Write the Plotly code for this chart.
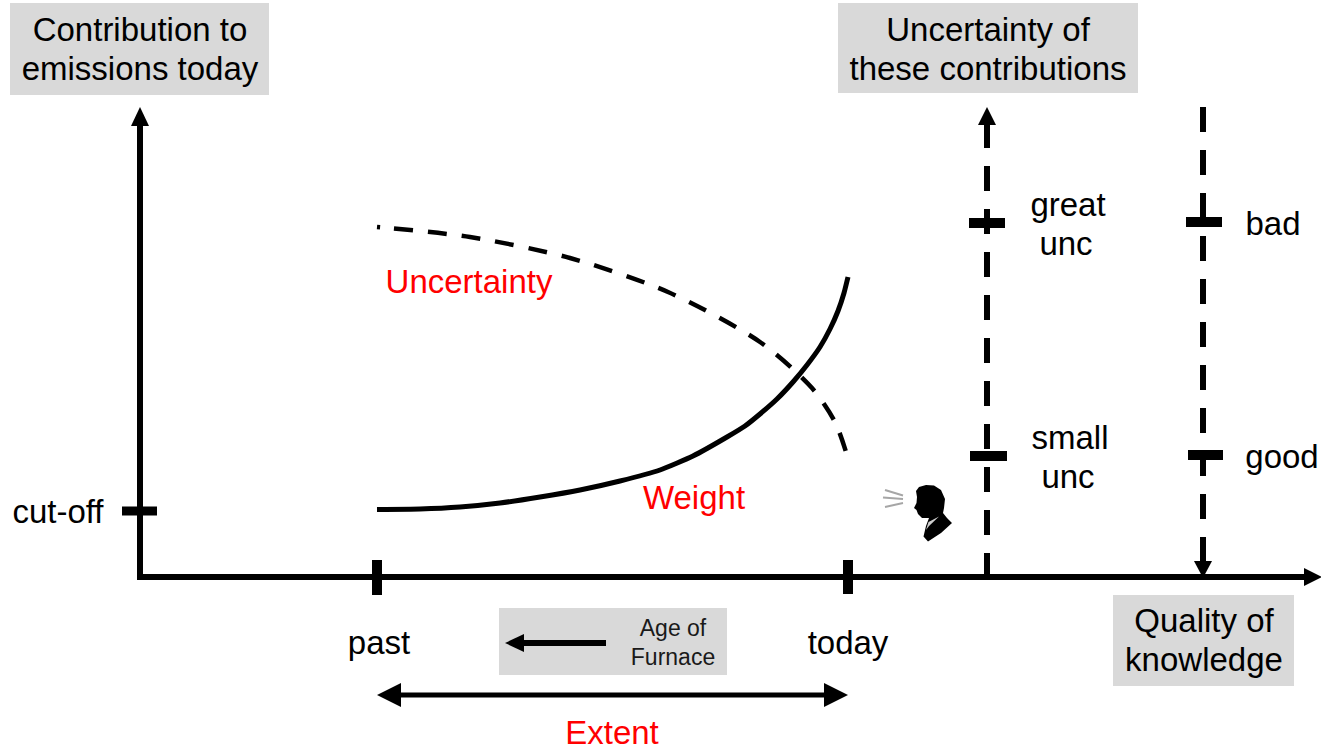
import plotly.graph_objects as go

# Curves (pixel-style diagram coordinates)
uncertainty_x = [377, 470, 570, 668, 760, 812, 835, 847]
uncertainty_y = [227, 237, 258, 292, 342, 388, 422, 455]
weight_x = [377, 420, 460, 500, 540, 580, 620, 660, 693, 727, 745, 760, 777, 793, 807, 820, 830, 838, 844, 848]
weight_y = [509.5, 509, 507, 503, 497, 490, 481, 470, 456, 437, 426, 414, 399, 382, 365, 347, 329, 311, 293, 277]

# Grey label boxes: x0, y0, x1, y1
boxes = [(10, 3, 269, 95), (838, 3, 1138, 93), (1113, 595, 1294, 686), (499, 608, 727, 675)]

# Solid straight lines: x0, y0, x1, y1, width
solid_lines = [
    (140, 580, 140, 122, 6), (137, 577, 1306, 577, 6),
    (122, 511, 157, 511, 9), (377, 560, 377, 595, 10), (848, 560, 848, 594, 10),
    (969, 223, 1005, 223, 10), (1186, 222, 1222, 222, 10),
    (970, 456, 1007, 456, 10), (1188, 455, 1223, 455, 10),
    (398, 695, 828, 695, 5), (522, 643, 606, 643, 6),
]
# Dashed axes: x, y_start, y_end
dashed_lines = [(987, 123, 577), (1203, 107, 565)]
# Arrowheads: tip x, tip y, base x, base y, half width
arrowheads = [
    (140, 107, 140, 126, 9), (1322, 577, 1304, 577, 9),
    (987, 107, 987, 125, 9), (1203, 578, 1203, 561, 9),
    (377, 695, 401, 695, 12), (848, 695, 824, 695, 12),
    (505, 643, 524, 643, 9),
]

# Text labels
black_labels = ["Contribution to", "emissions today", "Uncertainty of", "these contributions",
                "Quality of", "knowledge", "cut-off", "past", "today",
                "great", "unc", "small", "unc", "bad", "good"]
black_x = [140, 140, 988, 988, 1204, 1204, 58, 379, 848, 1068, 1066, 1070, 1068, 1273, 1282]
black_y = [33, 72, 33, 72, 624, 663, 515, 646, 646, 208, 247, 441, 480, 227, 460]
small_labels = ["Age of", "Furnace"]
small_x = [673, 673]
small_y = [630, 659]
red_labels = ["Uncertainty", "Weight", "Extent"]
red_x = [469, 694, 612]
red_y = [285, 501, 736]

# Speaker silhouette
head_x = [916, 919, 926, 934, 941, 945, 944, 943, 947, 952, 941, 928, 923.5, 926, 929, 922, 918, 916.5, 914, 916.5, 917]
head_y = [491, 487, 485, 485.5, 490, 499, 508, 513, 518, 523, 533, 541.5, 536.5, 526, 518, 518, 514, 510, 508, 503, 497]
tie_x = [928.5, 939, 929, 926, 928.5]
tie_y = [522, 516.5, 526, 530, 522]
speech_lines = [(885, 490, 903, 495.5), (883, 497.5, 903, 499), (885, 507, 903, 503)]

fig = go.Figure()


def add_line(xs, ys, width, dash="solid", color="black", shape="linear", smoothing=0.8):
    fig.add_trace(go.Scatter(x=xs, y=ys, mode="lines", hoverinfo="skip", showlegend=False,
                             line=dict(color=color, width=width, dash=dash, shape=shape,
                                       smoothing=smoothing)))


def add_fill(xs, ys, color):
    fig.add_trace(go.Scatter(x=xs, y=ys, mode="lines", fill="toself", fillcolor=color,
                             line=dict(width=0, color=color), hoverinfo="skip", showlegend=False))


def add_text(labels, xs, ys, size, color):
    fig.add_trace(go.Scatter(x=xs, y=ys, mode="text", text=labels, textposition="middle center",
                             textfont=dict(family="Liberation Sans", size=size, color=color),
                             hoverinfo="skip", showlegend=False))


for x0, y0, x1, y1, w in solid_lines:
    add_line([x0, x1], [y0, y1], w)
for x, y0, y1 in dashed_lines:
    add_line([x, x], [y0, y1], 6, dash="25px,18px")
add_line(uncertainty_x, uncertainty_y, 4.5, dash="3px,14px," + ",".join(["19px,15px"] * 18), shape="spline")
add_line(weight_x, weight_y, 5, shape="spline", smoothing=0.5)
for tx, ty, bx, by, h in arrowheads:
    if tx == bx:
        add_fill([tx, bx - h, bx + h, tx], [ty, by, by, ty], "black")
    else:
        add_fill([tx, bx, bx, tx], [ty, by - h, by + h, ty], "black")
for x0, y0, x1, y1 in speech_lines:
    add_line([x0, x1], [y0, y1], 2, color="#a6a6a6")
add_fill(head_x, head_y, "black")
add_fill(tie_x, tie_y, "#cfcfcf")
add_text(black_labels, black_x, black_y, 33, "black")
add_text(small_labels, small_x, small_y, 23, "#1a1a1a")
add_text(red_labels, red_x, red_y, 33, "#ff0000")

fig.update_layout(
    width=1321, height=747, margin=dict(l=0, r=0, t=0, b=0),
    paper_bgcolor="white", plot_bgcolor="white", showlegend=False,
    xaxis=dict(range=[0, 1321], visible=False, fixedrange=True),
    yaxis=dict(range=[747, 0], visible=False, fixedrange=True),
    shapes=[dict(type="rect", x0=a, y0=b, x1=c, y1=d, fillcolor="#d9d9d9", line_width=0, layer="below")
            for a, b, c, d in boxes],
)
fig.write_html("out.html", config={"displayModeBar": False},
               post_script="document.body.style.margin='0';document.body.style.overflow='hidden';")
